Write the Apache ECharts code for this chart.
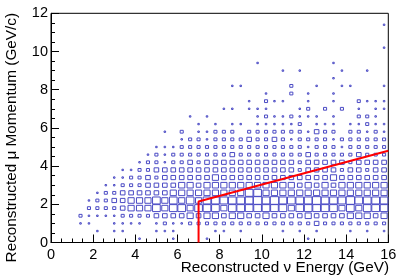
<!DOCTYPE html>
<html>
<head>
<meta charset="utf-8">
<script src="https://cdn.jsdelivr.net/npm/echarts@6/dist/echarts.min.js"></script>
<style>html,body{margin:0;padding:0;background:#fff}#c{width:409px;height:277px}</style>
</head>
<body>
<div id="c"></div>
<script>
// Histogram binning (GeV): 40 bins in energy, 30 bins in momentum
const xMin = 0, xMax = 16, xBins = 40;
const yMin = 0, yMax = 12, yBins = 30;
const xTickValues = [0, 2, 4, 6, 8, 10, 12, 14, 16];
const yTickValues = [0, 2, 4, 6, 8, 10, 12];
const xTitle = 'Reconstructed \u03bd Energy (GeV)';
const yTitle = 'Reconstructed \u03bc Momentum (GeV/c)';
// Selection cut line
const cutX = [7, 7, 16];
const cutY = [0, 2.15, 4.8];
// Bin contents, one row per momentum bin (row 0 = 0-0.4 GeV/c), 40 energy bins each
const counts = [
/* 0 */ [0,0,0,0,0,0,0,0,0,0, 1,0,0,0,1,0,0,0,1,0, 0,0,0,0,0,0,0,0,0,0, 1,0,0,0,0,0,0,0,0,0],
/* 1 */ [0,0,0,0,0,1,0,1,1,0, 0,0,1,1,1,0,0,0,0,1, 1,0,1,0,0,0,0,1,0,1, 0,1,0,0,0,1,0,1,0,1],
/* 2 */ [0,0,0,1,1,0,0,1,1,1, 1,0,1,4,1,1,4,4,4,4, 4,4,4,4,4,4,4,4,4,4, 4,9,4,4,4,4,4,4,4,4],
/* 3 */ [0,0,0,4,1,1,1,1,4,4, 4,4,9,9,9,9,16,9,16,16, 9,16,16,9,9,16,9,9,9,9, 16,9,9,9,9,16,16,16,9,16],
/* 4 */ [0,0,0,0,4,4,4,4,9,16, 16,16,25,16,25,25,16,25,25,25, 16,25,25,25,25,25,25,25,16,25, 25,25,25,25,16,25,16,25,25,25],
/* 5 */ [0,0,0,0,1,4,4,9,9,16, 16,16,25,16,25,16,25,16,25,25, 25,25,25,25,30,25,30,25,25,25, 25,30,25,25,25,30,25,25,25,25],
/* 6 */ [0,0,0,0,0,1,4,4,9,9, 9,9,9,9,16,16,16,16,16,16, 16,16,16,25,25,16,16,16,16,16, 16,16,16,16,16,16,16,16,16,16],
/* 7 */ [0,0,0,0,0,0,1,1,4,4, 4,9,9,9,9,16,16,9,16,16, 16,16,16,16,16,16,16,16,16,9, 16,9,16,9,16,16,16,16,16,16],
/* 8 */ [0,0,0,0,0,0,0,1,1,4, 4,9,4,9,9,9,9,9,9,16, 9,9,9,9,9,9,9,9,9,9, 9,9,9,16,9,9,9,9,9,9],
/* 9 */ [0,0,0,0,0,0,0,0,1,1, 4,4,9,9,9,9,9,9,9,9, 9,9,9,9,9,9,9,9,9,4, 9,9,9,9,4,9,9,4,9,9],
/*10 */ [0,0,0,0,0,0,0,0,0,0, 1,4,4,1,4,4,9,4,9,9, 9,9,9,9,9,9,9,9,9,4, 9,9,9,9,9,4,9,9,9,9],
/*11 */ [0,0,0,0,0,0,0,0,0,0, 0,1,4,1,4,4,4,4,4,4, 4,9,4,4,4,4,4,4,4,4, 9,4,4,4,4,4,9,4,4,4],
/*12 */ [0,0,0,0,0,0,0,0,0,0, 0,0,1,1,1,4,4,4,4,4, 4,4,4,4,4,4,4,4,4,4, 1,4,4,4,1,4,4,4,4,4],
/*13 */ [0,0,0,0,0,0,0,0,0,0, 0,0,0,0,0,1,4,4,1,4, 4,4,4,9,4,4,9,4,1,4, 4,4,4,1,4,4,4,4,4,4],
/*14 */ [0,0,0,0,0,0,0,0,0,0, 0,0,0,1,0,4,0,1,1,4, 4,4,0,4,4,4,4,4,4,4, 1,9,4,4,0,4,4,1,4,1],
/*15 */ [0,0,0,0,0,0,0,0,0,0, 0,0,0,0,0,0,0,1,0,1, 0,1,1,0,1,1,1,1,1,4, 0,1,1,1,0,1,1,4,1,1],
/*16 */ [0,0,0,0,0,0,0,0,0,0, 0,0,0,0,0,0,1,0,1,0, 0,0,0,0,1,4,1,1,4,1, 1,1,0,1,0,0,4,4,1,0],
/*17 */ [0,0,0,0,0,0,0,0,0,0, 0,0,0,0,0,0,0,0,0,0, 1,1,0,1,1,1,0,0,0,1, 4,0,4,0,4,0,1,0,1,1],
/*18 */ [0,0,0,0,0,0,0,0,0,0, 0,0,0,0,0,0,0,0,0,0, 0,0,0,1,0,4,1,1,0,0, 1,0,0,1,0,0,4,1,1,1],
/*19 */ [0,0,0,0,0,0,0,0,0,0, 0,0,0,0,0,0,0,0,0,0, 0,0,0,0,0,1,0,0,4,0, 1,0,0,1,0,0,0,0,0,0],
/*20 */ [0,0,0,0,0,0,0,0,0,0, 0,0,0,0,0,0,0,0,0,0, 0,1,1,0,0,0,0,0,4,0, 0,1,0,0,1,1,0,0,0,1],
/*21 */ [0,0,0,0,0,0,0,0,0,0, 0,0,0,0,0,0,0,0,0,0, 0,0,0,0,0,0,0,0,0,0, 0,0,0,1,0,0,0,0,0,0],
/*22 */ [0,0,0,0,0,0,0,0,0,0, 0,0,0,0,0,0,0,0,0,0, 0,0,0,0,0,0,0,1,0,1, 0,0,0,0,1,0,0,1,0,0],
/*23 */ [0,0,0,0,0,0,0,0,0,0, 0,0,0,0,0,0,0,0,0,0, 0,0,0,0,1,0,0,0,0,0, 0,0,0,1,0,0,0,0,0,0],
/*24 */ [0,0,0,0,0,0,0,0,0,0, 0,0,0,0,0,0,0,0,0,0, 0,0,0,0,0,0,0,0,0,0, 0,0,0,0,0,0,0,0,0,0],
/*25 */ [0,0,0,0,0,0,0,0,0,0, 0,0,0,0,0,0,0,0,0,0, 0,0,0,0,0,0,0,0,0,0, 0,0,0,0,0,0,0,0,0,1],
/*26 */ [0,0,0,0,0,0,0,0,0,0, 0,0,0,0,0,0,0,0,0,0, 0,0,0,0,0,0,0,0,0,0, 0,0,0,0,0,0,0,0,0,0],
/*27 */ [0,0,0,0,0,0,0,0,0,0, 0,0,0,0,0,0,0,0,0,0, 0,0,0,0,0,0,0,0,0,0, 0,0,0,0,0,0,0,0,0,0],
/*28 */ [0,0,0,0,0,0,0,0,0,0, 0,0,0,0,0,0,0,0,0,0, 0,0,0,0,0,0,0,0,0,0, 0,0,0,0,0,0,0,0,0,1],
/*29 */ [0,0,0,0,0,0,0,0,0,0, 0,0,0,0,0,0,0,0,0,0, 0,0,0,0,0,0,0,0,0,0, 0,0,0,0,0,0,0,0,0,0]
];

const binW = (xMax - xMin) / xBins;
const binH = (yMax - yMin) / yBins;
const boxData = [];
counts.forEach(function (row, j) {
  row.forEach(function (c, i) {
    if (c > 0) boxData.push([xMin + (i + 0.5) * binW, yMin + (j + 0.5) * binH, c]);
  });
});
const fullCount = 30; // count that would fill a whole bin

const chart = echarts.init(document.getElementById('c'), null, {renderer: 'canvas'});
const FONT = "'Liberation Sans', Arial, Helvetica, sans-serif";
chart.setOption({
  animation: false,
  backgroundColor: '#ffffff',
  grid: {
    left: 51, right: 20.7, top: 13.3, bottom: 34.5,
    containLabel: false, outerBoundsMode: 'none',
    show: true, borderColor: '#000', borderWidth: 1, backgroundColor: 'transparent'
  },
  xAxis: {
    type: 'value', min: xMin, max: xMax, interval: 2,
    axisLine: {show: true, onZero: false, lineStyle: {color: '#000', width: 1}},
    axisTick: {show: true, inside: true, length: 8, lineStyle: {color: '#000'}},
    minorTick: {show: true, splitNumber: 4, length: 4, lineStyle: {color: '#000'}},
    splitLine: {show: false},
    axisLabel: {
      color: '#000', fontFamily: FONT, fontSize: 14.5, margin: 5,
      formatter: function (v) { return xTickValues.indexOf(v) >= 0 ? String(v) : ''; }
    }
  },
  yAxis: {
    type: 'value', min: yMin, max: yMax, interval: 2,
    axisLine: {show: true, onZero: false, lineStyle: {color: '#000', width: 1}},
    axisTick: {show: true, inside: true, length: 8, lineStyle: {color: '#000'}},
    minorTick: {show: true, splitNumber: 4, length: 4, lineStyle: {color: '#000'}},
    splitLine: {show: false},
    axisLabel: {
      color: '#000', fontFamily: FONT, fontSize: 14.5, margin: 3,
      formatter: function (v) { return yTickValues.indexOf(v) >= 0 ? String(v) : ''; }
    }
  },
  graphic: [
    {type: 'text', x: 389, y: 268, style: {text: xTitle, font: '15.3px ' + FONT, fill: '#000', align: 'right', verticalAlign: 'middle'}},
    {type: 'text', x: 11.5, y: 13, rotation: Math.PI / 2, style: {text: yTitle, font: '15.3px ' + FONT, fill: '#000', align: 'right', verticalAlign: 'middle'}}
  ],
  series: [
    {
      type: 'custom',
      data: boxData,
      clip: true,
      renderItem: function (params, api) {
        const x = api.value(0), y = api.value(1), c = api.value(2);
        const p0 = api.coord([x - binW / 2, y + binH / 2]);
        const p1 = api.coord([x + binW / 2, y - binH / 2]);
        const cx = (p0[0] + p1[0]) / 2, cy = (p0[1] + p1[1]) / 2;
        const f = Math.sqrt(c / fullCount);
        const w = (p1[0] - p0[0]) * f, h = (p1[1] - p0[1]) * f;
        return {
          type: 'rect',
          shape: {x: cx - w / 2, y: cy - h / 2, width: w, height: h},
          style: {fill: 'none', stroke: '#4a4ac4', lineWidth: 1}
        };
      }
    },
    {
      type: 'line',
      data: cutX.map(function (v, k) { return [v, cutY[k]]; }),
      showSymbol: false,
      lineStyle: {color: '#ff0000', width: 2},
      z: 5
    }
  ]
});
</script>
</body>
</html>
